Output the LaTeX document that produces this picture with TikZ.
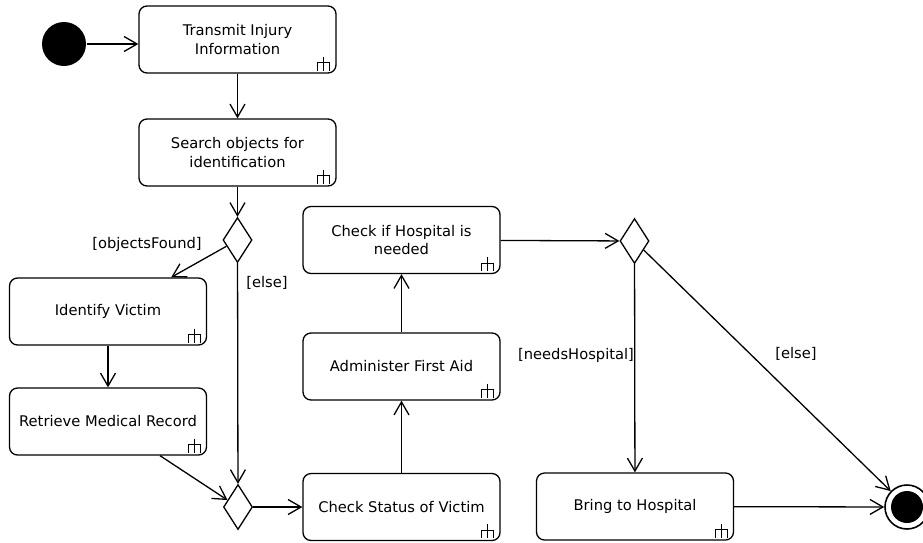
\documentclass[tikz,border=0pt]{standalone}
\usepackage{fontspec}
\setmainfont{DejaVu Sans}
\usetikzlibrary{arrows.meta,shapes.geometric,calc}
\begin{document}
\begin{tikzpicture}[x=1pt,y=-1pt,
  line width=1.3pt,
  flow/.style={-{Straight Barb[length=13pt,width=15pt]}},
  action/.style={draw, rounded corners=8pt, minimum width=197pt, minimum height=67pt,
    align=center, inner sep=0pt, font=\fontsize{14.7}{18.5}\selectfont},
  decision/.style={draw, diamond, minimum width=29pt, minimum height=45pt, inner sep=0pt},
  guard/.style={font=\fontsize{14.7}{18.5}\selectfont, inner sep=0pt},
  rake/.style={line width=1pt}]
\useasboundingbox (0,0) rectangle (923,542);

% initial and final nodes
\node[circle, fill=black, minimum size=44pt, inner sep=0pt] (start) at (64,44) {};
\node[circle, draw, line width=1.6pt, minimum size=44pt, inner sep=0pt] (final) at (907,507) {};
\fill (final.center) circle (16pt);

% actions
\node[action] (transmit) at (237.5,39.5) {Transmit Injury\\Information};
\node[action] (search)   at (237.5,152.5) {Search objects for\\identification};
\node[action] (identify) at (108,311.5) {Identify Victim};
\node[action] (retrieve) at (108,421.5) {Retrieve Medical Record};
\node[action] (status)   at (401.5,507) {Check Status of Victim};
\node[action] (aid)      at (401.5,366.5) {Administer First Aid};
\node[action] (needed)   at (401.5,240) {Check if Hospital is\\needed};
\node[action] (bring)    at (635,506.5) {Bring to Hospital};

% decision / merge nodes
\node[decision] (found)   at (237.5,240) {};
\node[decision] (merge)   at (238,507) {};
\node[decision] (hosp)    at (634.5,241) {};

% call-behavior rake marks
\foreach \b in {transmit,search,identify,retrieve,status,aid,needed,bring}{
  \draw[rake] ([shift={(-13,-17)}]\b.south east) -- ([shift={(-13,-3)}]\b.south east);
  \draw[rake] ([shift={(-19,-3)}]\b.south east) -- ([shift={(-19,-11)}]\b.south east)
     -- ([shift={(-7,-11)}]\b.south east) -- ([shift={(-7,-3)}]\b.south east);
}

% control flows
\draw[flow] (start) -- (transmit.west |- start);
\draw[flow] (transmit) -- (search);
\draw[flow] (search) -- (found);
\coordinate (idtop) at ([xshift=-36pt]identify.north east);
\draw[flow] (found) -- (idtop);
\draw[flow] (found) -- (merge);
\draw[flow] (identify) -- (retrieve);
\coordinate (rtbot) at ([xshift=52pt]retrieve.south);
\draw[flow] (rtbot) -- (merge);
\draw[flow] (merge) -- (status);
\draw[flow] (status) -- (aid);
\draw[flow] (aid) -- (needed);
\draw[flow] (needed) -- (hosp);
\draw[flow] (hosp) -- (bring);
\draw[flow] (hosp) -- (final);
\draw[flow] (bring) -- (final);

% guards
\node[guard] (gfound) at (147,244) {[objectsFound]};
\node[guard] (gelse1) at (267,283) {[else]};
\node[guard] (gneeds) at (576,355) {[needsHospital]};
\node[guard] (gelse2) at (796,354) {[else]};
\end{tikzpicture}
\end{document}
